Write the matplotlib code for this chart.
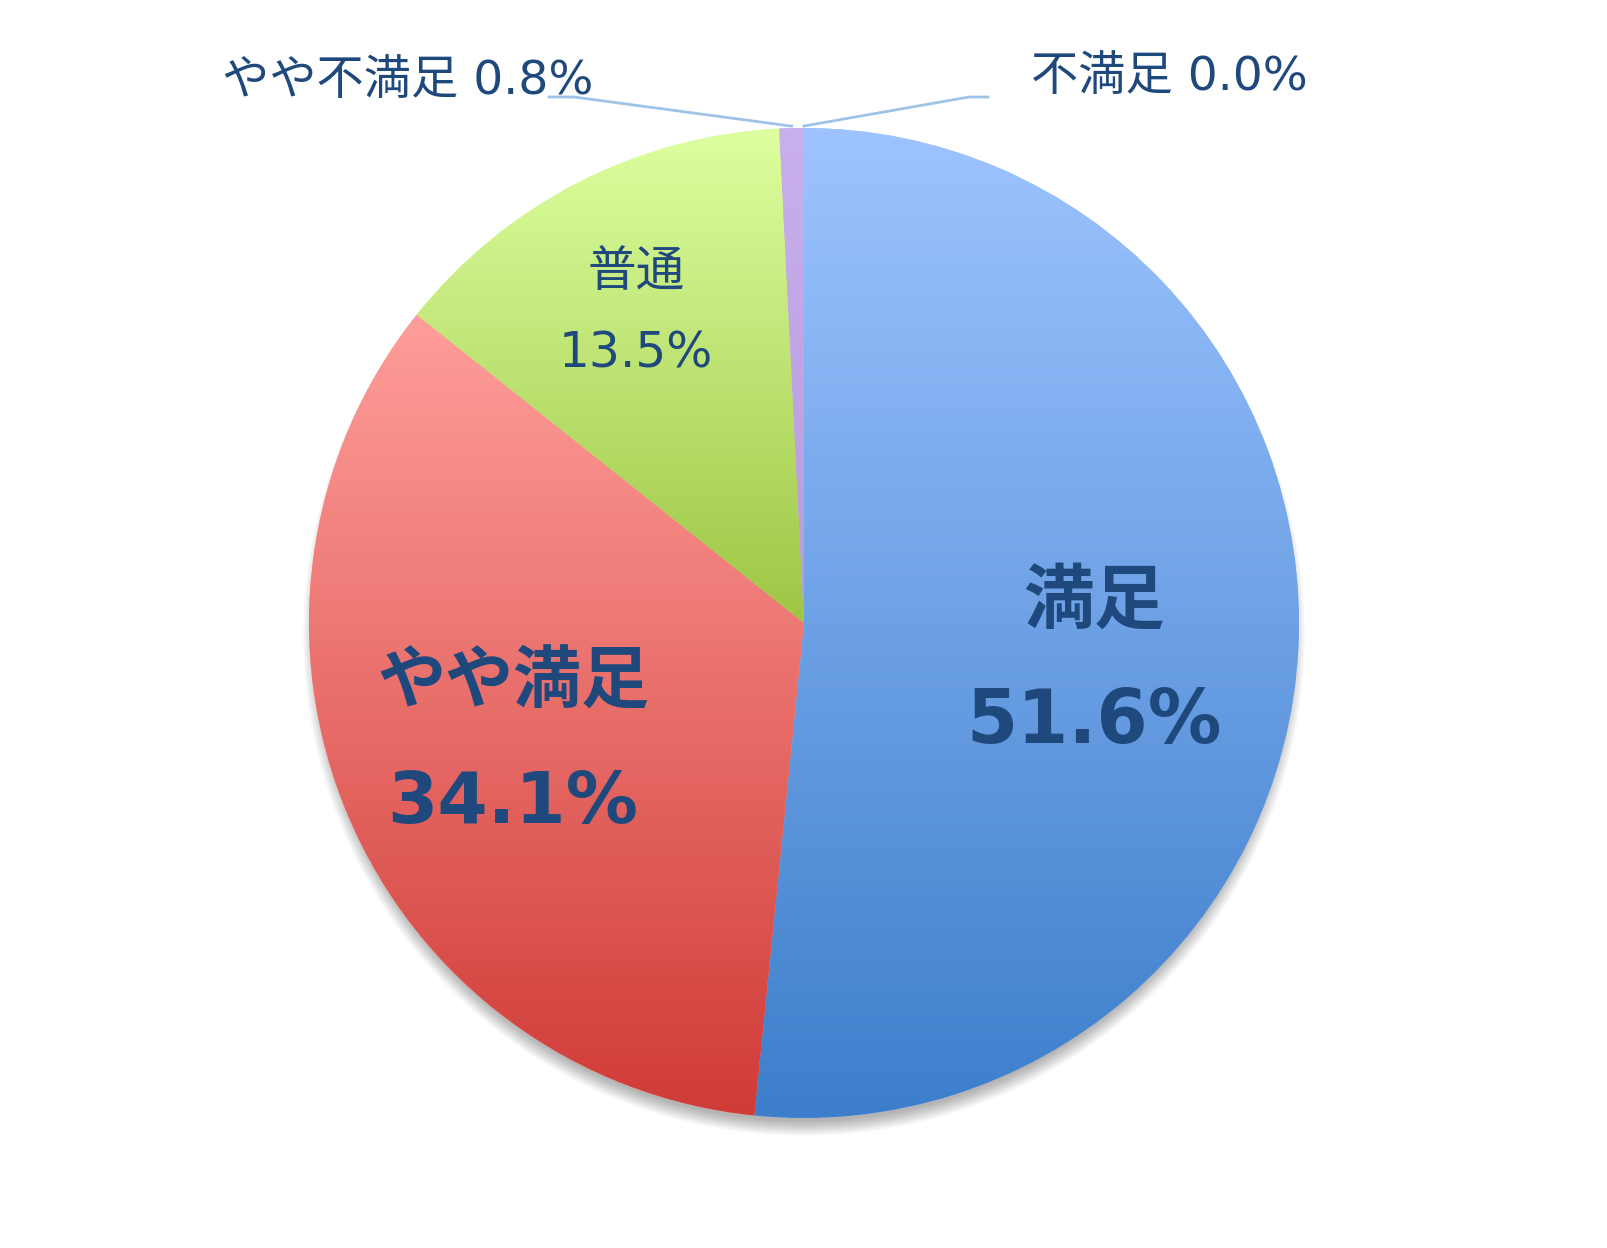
import numpy as np
import matplotlib.pyplot as plt
from matplotlib.colors import LinearSegmentedColormap

labels = ['満足', 'やや満足', '普通', 'やや不満足', '不満足']
values = [51.6, 34.1, 13.5, 0.8, 0.0]
top_colors = ['#9ec4ff', '#ff9e9a', '#ddffa0', '#c8b0ec', '#c8b0ec']
bottom_colors = ['#3c7ecb', '#d03b37', '#9dc644', '#b89ae0', '#b89ae0']
text_color = '#1f497d'
fam = ['DejaVu Sans', 'Noto Sans CJK JP']

W, H = 1608, 1248
cx, cy, r = 804, H - 623, 495

fig = plt.figure(figsize=(W / 100, H / 100), dpi=100)
ax = fig.add_axes([0, 0, 1, 1])

# soft shadow, mostly below the pie
for k in range(16):
    ax.add_patch(plt.Circle((cx, cy - 12), r + 6 - k, color='black', alpha=0.02,
                            lw=0, zorder=0))

wedges, _ = ax.pie(values, startangle=90, counterclock=False, center=(cx, cy),
                   radius=r, colors=top_colors, frame=True,
                   wedgeprops=dict(linewidth=0))

# vertical gradient fill clipped to each wedge
for w, v, c1, c2 in zip(wedges, values, top_colors, bottom_colors):
    if v <= 0:
        continue
    verts = w.get_path().vertices
    y0, y1 = verts[:, 1].min(), verts[:, 1].max()
    x0, x1 = verts[:, 0].min(), verts[:, 0].max()
    cmap = LinearSegmentedColormap.from_list('g', [c2, c1])
    grad = np.linspace(0, 1, 256).reshape(-1, 1)
    im = ax.imshow(grad, cmap=cmap, extent=(x0, x1, y0, y1), origin='lower',
                   aspect='auto', zorder=2)
    im.set_clip_path(w)

ax.set_xlim(0, W)
ax.set_ylim(0, H)
ax.axis('off')

# inside labels
ax.text(1094, H - 603, labels[0], ha='center', va='center', fontsize=51,
        fontweight='bold', color=text_color, family=fam, zorder=5)
ax.text(1094, H - 723, f'{values[0]:.1f}%', ha='center', va='center', fontsize=53,
        fontweight='bold', color=text_color, family=fam, zorder=5)
ax.text(513, H - 684, labels[1], ha='center', va='center', fontsize=49,
        fontweight='bold', color=text_color, family=fam, zorder=5)
ax.text(513, H - 803, f'{values[1]:.1f}%', ha='center', va='center', fontsize=52,
        fontweight='bold', color=text_color, family=fam, zorder=5)
ax.text(636, H - 272, labels[2], ha='center', va='center', fontsize=35,
        color=text_color, family=fam, zorder=5)
ax.text(636, H - 354, f'{values[2]:.1f}%', ha='center', va='center', fontsize=35,
        color=text_color, family=fam, zorder=5)

# outside labels with leader lines
line_color = '#9dc3e6'
ends = np.cumsum(values)
starts = ends - np.array(values)
for i, (tx, ty, elbow) in zip([3, 4], [(408, 81, (574, 97)),
                                       (1169, 77, (969, 97))]):
    mid = (starts[i] + ends[i]) / 2 / 100 * 360
    ang = np.deg2rad(90 - mid)
    ax_, ay_ = cx + r * np.cos(ang), cy + r * np.sin(ang)
    ax.text(tx, H - ty, f'{labels[i]} {values[i]:.1f}%', ha='center', va='center',
            fontsize=34, color=text_color, family=fam, zorder=5)
    hx = elbow[0] - 25 if i == 3 else elbow[0] + 19
    ax.plot([hx, elbow[0], ax_], [H - elbow[1], H - elbow[1], ay_ + 2],
            color=line_color, lw=2, zorder=4)

fig.savefig('out.png', dpi=100)
